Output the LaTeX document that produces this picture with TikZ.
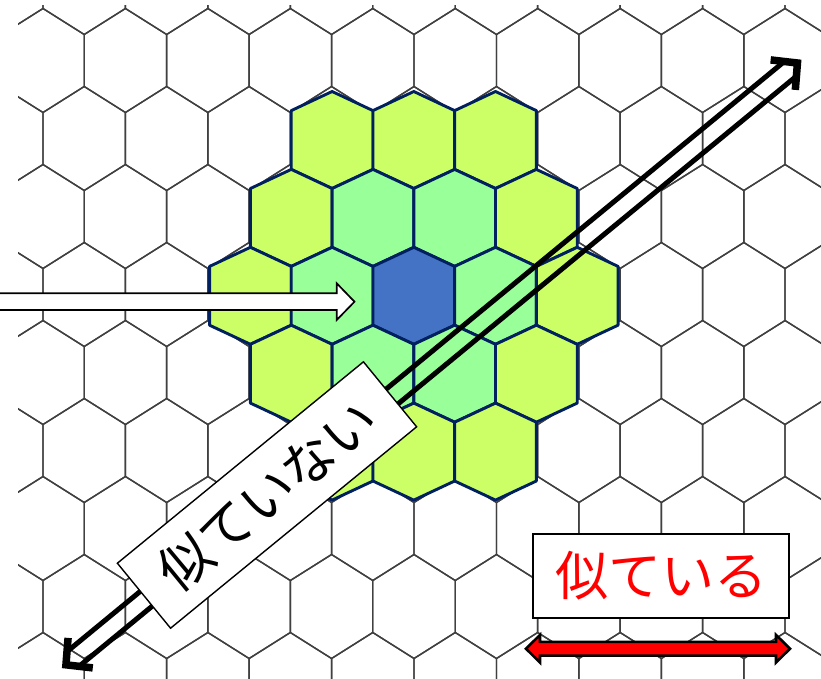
\documentclass[tikz,border=0pt]{standalone}
\usepackage{fontspec}
\newfontfamily\jpfont{Noto Sans CJK JP}
\usetikzlibrary{calc}
\definecolor{gridc}{HTML}{404040}
\definecolor{navy}{HTML}{002060}
\definecolor{lime}{HTML}{CCFF66}
\definecolor{mint}{HTML}{99FF99}
\definecolor{hexblue}{HTML}{4472C4}
\tikzset{
  gridhex/.style={draw=gridc, line width=1.4pt, line join=round},
  colhex/.style={draw=navy, line width=2.9pt, line join=round},
  blockarrow/.style={draw=black, line width=1.7pt, fill=white, line join=miter},
  dshaft/.style={draw=black, line width=5pt},
  dhead/.style={draw=black, line width=7.5pt, line join=miter, miter limit=10},
  labelbox/.style={draw=black, line width=1.4pt, fill=white, inner sep=0pt,
    minimum height=84pt, font=\jpfont\fontsize{53pt}{53pt}\selectfont},
  redarrow/.style={draw=black, line width=2.6pt, fill=red, line join=miter}
}
\newcommand\chex[3]{%
  \draw[colhex, fill=#3] (#1,#2-48.5) -- ++(40.85,19.1) -- ++(0,58.8)
    -- ++(-40.85,19.1) -- ++(-40.85,-19.1) -- ++(0,-58.8) -- cycle;}
\begin{document}
\begin{tikzpicture}[x=1pt,y=-1pt]
\useasboundingbox (0,0) rectangle (821,678);
\fill[white] (0,0) rectangle (821,678);
\clip (0,0) rectangle (821,678);
% background grid
\begin{scope}
\clip (18,5) rectangle (821,678);
\foreach \r in {-1,...,8}{
  \foreach \c in {-1,...,10}{
    \pgfmathsetmacro{\cx}{(mod(\r+2,2)==0 ? 43 : 84.2) + 82.45*\c}
    \pgfmathsetmacro{\cy}{60.5+78*\r}
    \draw[gridhex] (\cx,\cy-52) -- ++(41.225,26) -- ++(0,52) -- ++(-41.225,26)
      -- ++(-41.225,-26) -- ++(0,-52) -- cycle;
  }
}
\end{scope}
% coloured cluster
\chex{332.1}{140}{lime}
\chex{413.8}{140}{lime}
\chex{495.5}{140}{lime}
\chex{291.25}{217.9}{lime}
\chex{372.95}{217.9}{mint}
\chex{454.65}{217.9}{mint}
\chex{536.35}{217.9}{lime}
\chex{250.4}{295.8}{lime}
\chex{332.1}{295.8}{mint}
\chex{413.8}{295.8}{hexblue}
\chex{495.5}{295.8}{mint}
\chex{577.2}{295.8}{lime}
\chex{291.25}{373.7}{lime}
\chex{372.95}{373.7}{mint}
\chex{454.65}{373.7}{mint}
\chex{536.35}{373.7}{lime}
\chex{332.1}{451.6}{lime}
\chex{413.8}{451.6}{lime}
\chex{495.5}{451.6}{lime}
% white block arrow
\draw[blockarrow] (-5,293.3) -- (336.7,293.3) -- (336.7,283.3) -- (354.5,301.7)
  -- (336.7,320) -- (336.7,310) -- (-5,310) -- cycle;
% double diagonal arrow
\coordinate (T1) at (801.7,59.5);
\coordinate (T2) at (61.7,668.3);
\coordinate (V1) at ($(T1)!5.5pt!(T2)$);
\coordinate (V2) at ($(T2)!5.5pt!(T1)$);
\coordinate (S1) at ($(T1)!15pt!(T2)$);
\coordinate (S2) at ($(T2)!15pt!(T1)$);
\draw[dshaft] ($(S1)!9.5pt!90:(T2)$) -- ($(S2)!9.5pt!-90:(T1)$);
\draw[dshaft] ($(S1)!9.5pt!-90:(T2)$) -- ($(S2)!9.5pt!90:(T1)$);
\draw[dhead] ($(V1)!27pt!46:(T2)$) -- (V1) -- ($(V1)!27pt!-46:(T2)$);
\draw[dhead] ($(V2)!27pt!46:(T1)$) -- (V2) -- ($(V2)!27pt!-46:(T1)$);
% labels
\node[labelbox, minimum width=318pt, rotate=39.3] (notsim) at (267,495) {似ていない};
\node[labelbox, minimum width=256pt, text=red] (sim) at (661,576) {似ている};
% red double arrow
\draw[redarrow] (526,648.7) -- (540,634.9) -- (540,641.8) -- (776,641.8)
  -- (776,634.9) -- (790,648.7) -- (776,662.5) -- (776,655.6) -- (540,655.6)
  -- (540,662.5) -- cycle;
\end{tikzpicture}
\end{document}
